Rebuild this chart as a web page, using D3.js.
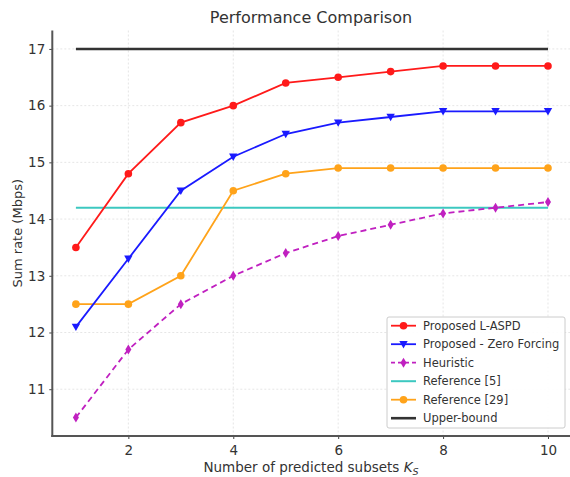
<!DOCTYPE html>
<html><head><meta charset="utf-8">
<script src="https://cdn.jsdelivr.net/npm/d3@7"></script>
<style>body{margin:0;background:#fff}svg{display:block;font-family:"DejaVu Sans",sans-serif}</style>
</head><body><svg id="c" width="570" height="477"></svg>
<script>
const ks = [1,2,3,4,5,6,7,8,9,10];
const lAspd = [13.5,14.8,15.7,16.0,16.4,16.5,16.6,16.7,16.7,16.7];
const zeroForcing = [12.1,13.3,14.5,15.1,15.5,15.7,15.8,15.9,15.9,15.9];
const heuristic = [10.5,11.7,12.5,13.0,13.4,13.7,13.9,14.1,14.2,14.3];
const ref5 = [14.2,14.2,14.2,14.2,14.2,14.2,14.2,14.2,14.2,14.2];
const ref29 = [12.5,12.5,13.0,14.5,14.8,14.9,14.9,14.9,14.9,14.9];
const upper = [17,17,17,17,17,17,17,17,17,17];
const xTicks = [2,4,6,8,10];
const yTicks = [11,12,13,14,15,16,17];
const seriesNames = ["Proposed L-ASPD","Proposed - Zero Forcing","Heuristic","Reference [5]","Reference [29]","Upper-bound"];

const svg = d3.select("#c");
const L = 52.3, R = 571.6, T = 30.5, B = 436;
const x = d3.scaleLinear().domain([0.55,10.45]).range([L,R]);
const y = d3.scaleLinear().domain([10.175,17.325]).range([B,T]);

// grid
svg.append("g").selectAll("line").data(xTicks).join("line")
  .attr("x1",d=>x(d)).attr("x2",d=>x(d)).attr("y1",T).attr("y2",B)
  .attr("stroke","#e6e6e6").attr("stroke-width",1).attr("stroke-dasharray","2,2");
svg.append("g").selectAll("line").data(yTicks).join("line")
  .attr("y1",d=>y(d)).attr("y2",d=>y(d)).attr("x1",L).attr("x2",R)
  .attr("stroke","#e6e6e6").attr("stroke-width",1).attr("stroke-dasharray","2,2");

const series = [
  {name:seriesNames[0], v:lAspd, color:"#ff1a1a", marker:"circle", dash:null},
  {name:seriesNames[1], v:zeroForcing, color:"#1a1aff", marker:"tri", dash:null},
  {name:seriesNames[2], v:heuristic, color:"#c020c0", marker:"diamond", dash:"6,4"},
  {name:seriesNames[3], v:ref5, color:"#3cc8c0", marker:null, dash:null, w:2},
  {name:seriesNames[4], v:ref29, color:"#ffa31a", marker:"circle", dash:null},
  {name:seriesNames[5], v:upper, color:"#333333", marker:null, dash:null, w:2.6}
];
const line = d3.line().x((d,i)=>x(ks[i])).y(d=>y(d));
function marker(g, type, cx, cy, color){
  if(type==="circle") g.append("circle").attr("cx",cx).attr("cy",cy).attr("r",3.8).attr("fill",color);
  else if(type==="tri") g.append("path").attr("d",`M${cx-4.2},${cy-3.2}L${cx+4.2},${cy-3.2}L${cx},${cy+4.2}Z`).attr("fill",color);
  else if(type==="diamond") g.append("path").attr("d",`M${cx},${cy-5}L${cx+3},${cy}L${cx},${cy+5}L${cx-3},${cy}Z`).attr("fill",color);
}
const draw = [5,3,4,2,1,0];
draw.forEach(i=>{
  const s = series[i];
  const g = svg.append("g");
  g.append("path").attr("d",line(s.v)).attr("fill","none").attr("stroke",s.color)
    .attr("stroke-width",s.w||1.8).attr("stroke-dasharray",s.dash);
  if(s.marker) s.v.forEach((d,j)=>marker(g,s.marker,x(ks[j]),y(d),s.color));
});

// axes
const ax = svg.append("g").attr("transform",`translate(0,${B})`).call(d3.axisBottom(x).tickValues(xTicks).tickSize(3).tickPadding(6));
const ay = svg.append("g").attr("transform",`translate(${L},0)`).call(d3.axisLeft(y).tickValues(yTicks).tickSize(3).tickPadding(4));
[ax,ay].forEach(a=>{
  a.select(".domain").remove();
  a.selectAll("text").attr("font-size",13.5).attr("fill","#333").attr("font-family","DejaVu Sans");
  a.selectAll(".tick line").attr("stroke","#444");
});
svg.append("line").attr("x1",L).attr("x2",L).attr("y1",T).attr("y2",B+1).attr("stroke","#555").attr("stroke-width",2);
svg.append("line").attr("x1",L-1).attr("x2",R).attr("y1",B).attr("y2",B).attr("stroke","#555").attr("stroke-width",2);

// title & labels
svg.append("text").attr("x",311).attr("y",23).attr("text-anchor","middle").attr("font-size",16).attr("fill","#333").text("Performance Comparison");
svg.append("text").attr("transform",`translate(22,${(T+B)/2}) rotate(-90)`).attr("text-anchor","middle").attr("font-size",13).attr("fill","#333").text("Sum rate (Mbps)");
const xl = svg.append("text").attr("x",311).attr("y",472).attr("text-anchor","middle").attr("font-size",13.5).attr("fill","#333");
xl.append("tspan").text("Number of predicted subsets ");
xl.append("tspan").attr("font-style","italic").text("K");
xl.append("tspan").attr("font-size",9.5).attr("dy",3).attr("font-style","italic").text("S");

// legend
const lg = svg.append("g");
lg.append("rect").attr("x",387).attr("y",317).attr("width",178).attr("height",111).attr("rx",2)
  .attr("fill","#fff").attr("fill-opacity",0.9).attr("stroke","#ccc");
series.forEach((s,i)=>{
  const yy = 325.7 + i*18.5;
  lg.append("line").attr("x1",391).attr("x2",416).attr("y1",yy).attr("y2",yy).attr("stroke",s.color)
    .attr("stroke-width",s.w||1.8).attr("stroke-dasharray",s.dash?"4,3":null);
  if(s.marker) marker(lg,s.marker,403.5,yy,s.color);
  lg.append("text").attr("x",423).attr("y",yy+4).attr("font-size",11.5).attr("fill","#333").text(s.name);
});
</script></body></html>
